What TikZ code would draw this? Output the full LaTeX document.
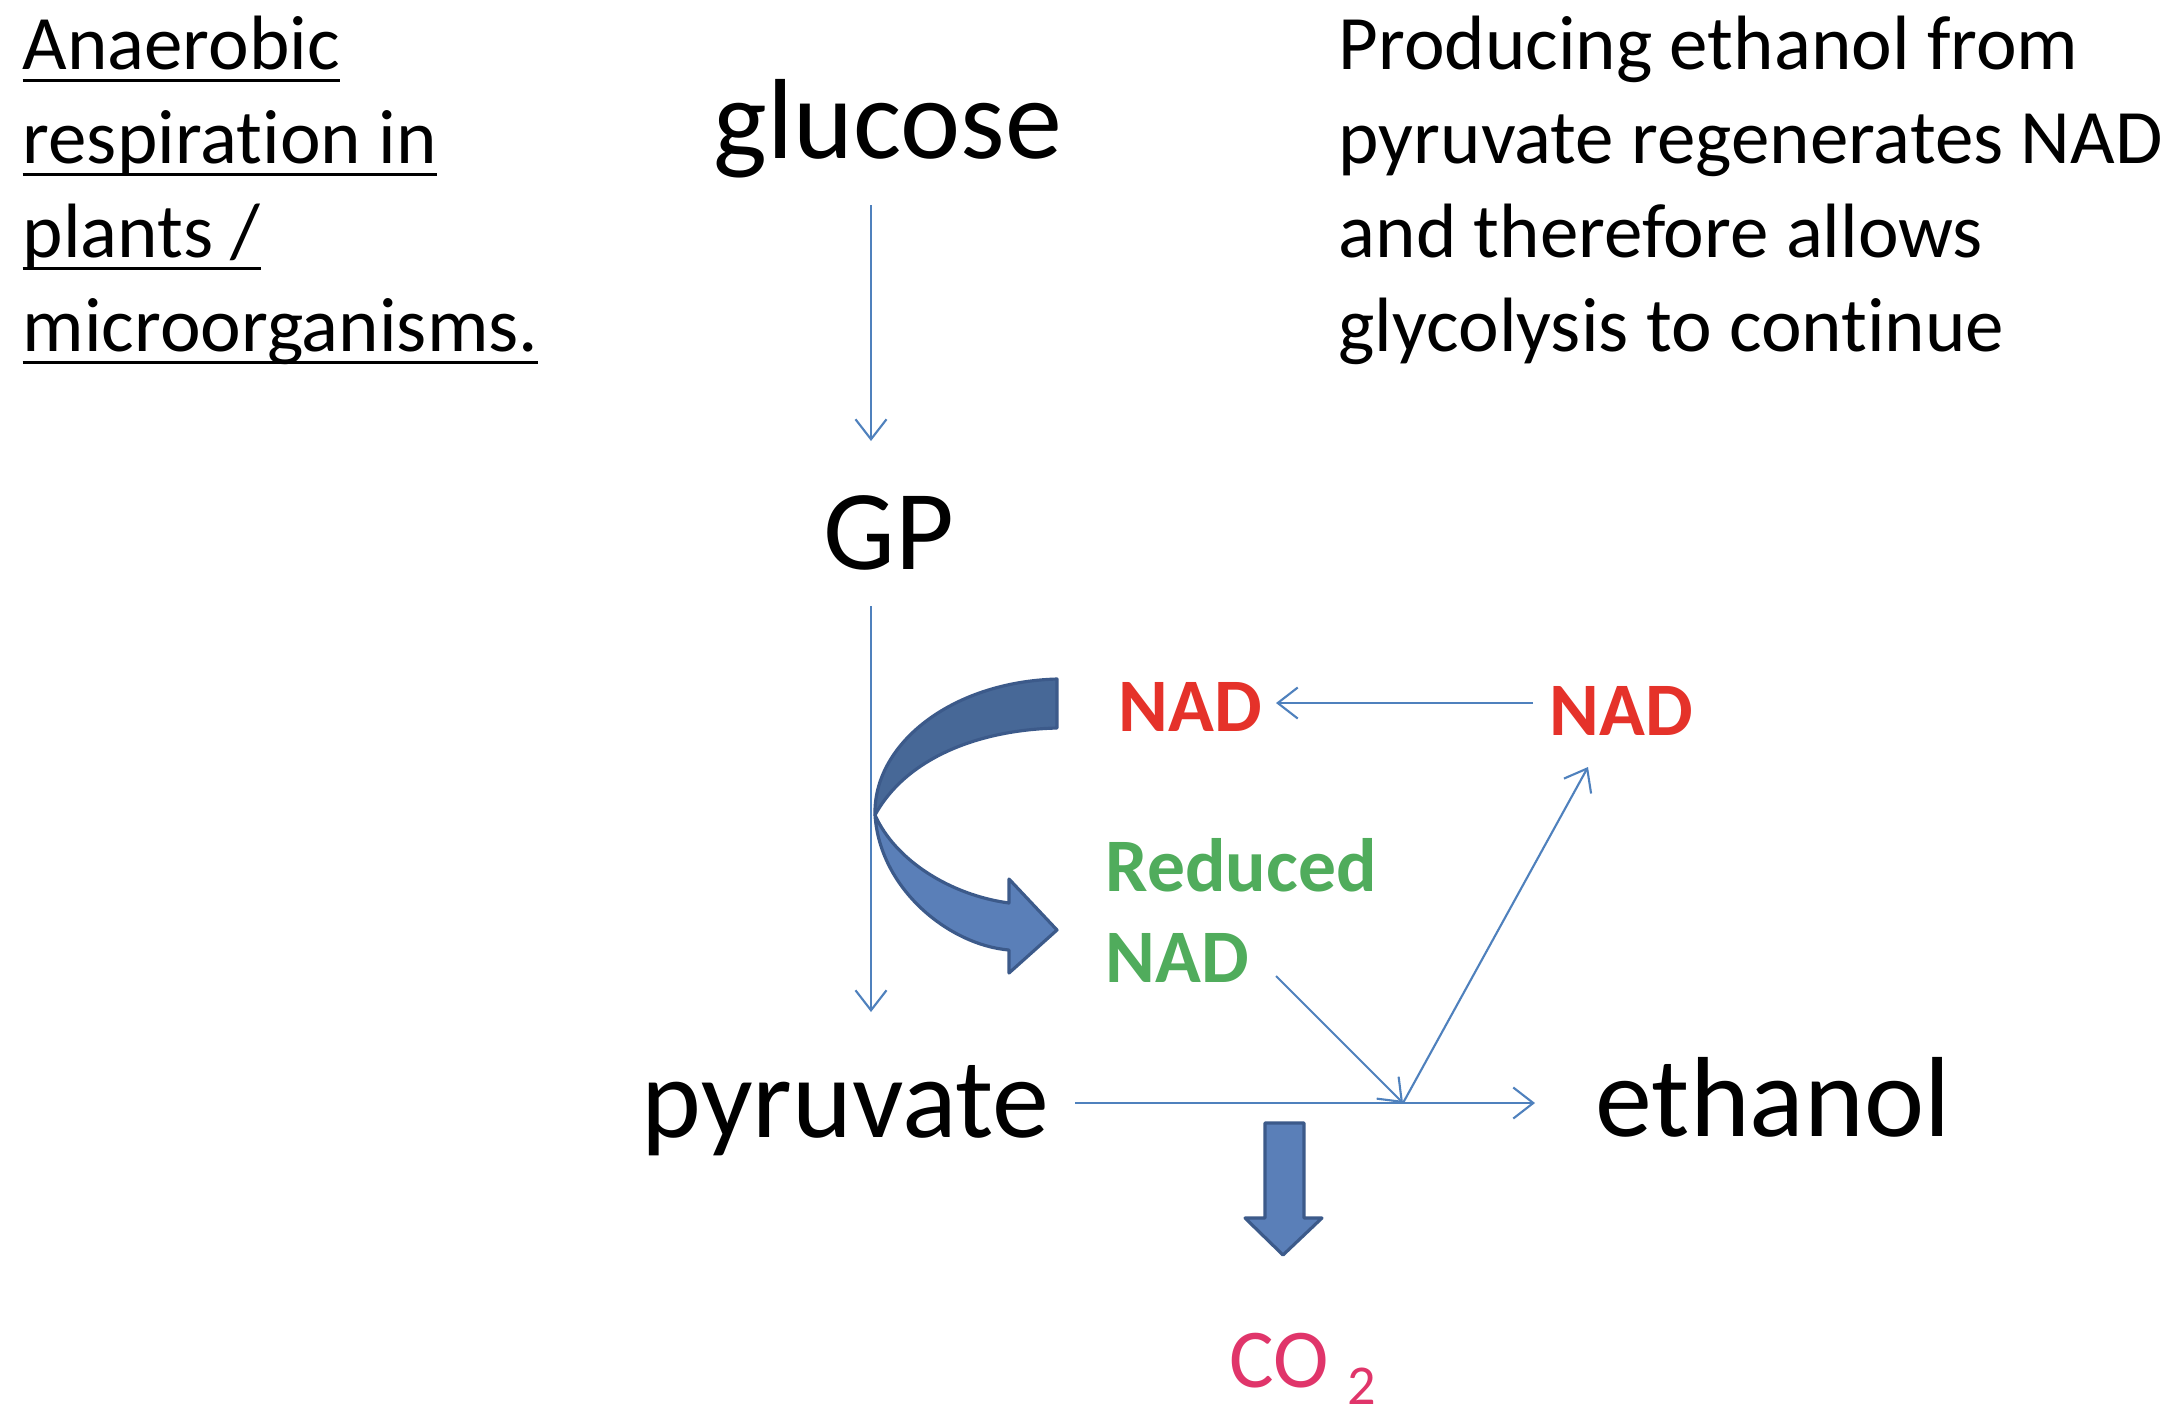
\documentclass[tikz,border=0pt]{standalone}
\usepackage{fontspec}
\setmainfont{Carlito}[Ligatures={NoCommon,NoContextual,NoRare}]
\usetikzlibrary{arrows.meta}
\definecolor{flowblue}{HTML}{4F81BD}
\definecolor{blockfill}{HTML}{5A7FB8}
\definecolor{blockdark}{HTML}{476897}
\definecolor{blockline}{HTML}{3C5A8A}
\definecolor{nadred}{HTML}{E5322A}
\definecolor{nadgreen}{HTML}{50AC5C}
\definecolor{copink}{HTML}{E0356A}
\newcommand{\titleline}[1]{\setbox0\hbox{#1}\rlap{\rule[-3.6pt]{\wd0}{0.85pt}}\box0}

\tikzset{
  big/.style={inner sep=0, font=\fontsize{32.4}{39}\selectfont},
  note/.style={inner sep=0, align=left, font=\fontsize{21.9}{26.7}\selectfont},
  nad/.style={inner sep=0, font=\bfseries\fontsize{21.5}{25.6}\selectfont},
  flow/.style={draw=flowblue, line width=0.6pt, -{Straight Barb[length=2mm,width=3.1mm]}},
  block/.style={fill=blockfill, draw=blockline, line width=0.9pt, line join=round},
}

\begin{document}
\begin{tikzpicture}[x=0.01cm, y=-0.01cm]
        \useasboundingbox[fill=white] (0,0) rectangle (2175,1417);

        % Draw the nodes
        \node[note, anchor=base west] (title) at (22,351) {\titleline{Anaerobic}\\ \titleline{respiration in}\\ \titleline{plants /}\\ \titleline{microorganisms.}};
        \node[note, anchor=base west] (info) at (1338,351) {Producing ethanol from\\ pyruvate regenerates NAD\\ and therefore allows\\ glycolysis to continue};
        \node[big, anchor=base] (glucose) at (888,158) {glucose};
        \node[big, anchor=base] (gp) at (889,569) {GP};
        \node[big, anchor=base west] (pyruvate) at (641,1137) {pyruvate};
        \node[big, anchor=base west] (ethanol) at (1595,1136) {ethanol};
        \node[nad, text=nadred, anchor=base west] (nadleft) at (1118,731) {NAD};
        \node[nad, text=nadred, anchor=base west] (nadright) at (1549,735) {NAD};
        \node[nad, text=nadgreen, align=left, anchor=base west] (rednad) at (1105,982) {Reduced\\ NAD};
        \node[inner sep=0, anchor=base west, text=copink, font=\fontsize{23.8}{28}\selectfont] (co2) at (1229,1387) {CO \raisebox{-5.1pt}{\fontsize{16}{18}\selectfont 2}};
        \coordinate (mix) at (1403,1103);

        % Draw the block arrows
        \path[block, fill=blockdark] (1057,679) -- (1057,728) .. controls (975,730) and (905,760) .. (875,815) .. controls (873,745) and (950,682) .. (1057,679) -- cycle;
        \path[block] (875,815) .. controls (880,890) and (950,945) .. (1009,950) -- (1009,973) -- (1057,930) -- (1009,879) -- (1009,903) .. controls (950,895) and (895,860) .. (875,815) -- cycle;
        \path[block] (1265,1123) -- (1304,1123) -- (1304,1218) -- (1322,1218) -- (1283,1255) -- (1245,1218) -- (1265,1218) -- cycle;

        % Draw the arrows
        \draw[flow] ([shift={(-17,47)}]glucose.base) -- ([shift={(-18,-128)}]gp.base);
        \draw[flow] ([shift={(-18,37)}]gp.base) -- ([shift={(230,-125)}]pyruvate.base west);
        \draw[flow] ([shift={(434,-34)}]pyruvate.base west) -- ([shift={(-60,-33)}]ethanol.base west);
        \draw[flow] ([shift={(-16,-32)}]nadright.base west) -- ([shift={(158,-28)}]nadleft.base west);
        \draw[flow] ([shift={(171,-6)}]rednad.base west) -- (mix);
        \draw[flow] (mix) -- ([shift={(39,32)}]nadright.base west);
    \end{tikzpicture}
\end{document}
